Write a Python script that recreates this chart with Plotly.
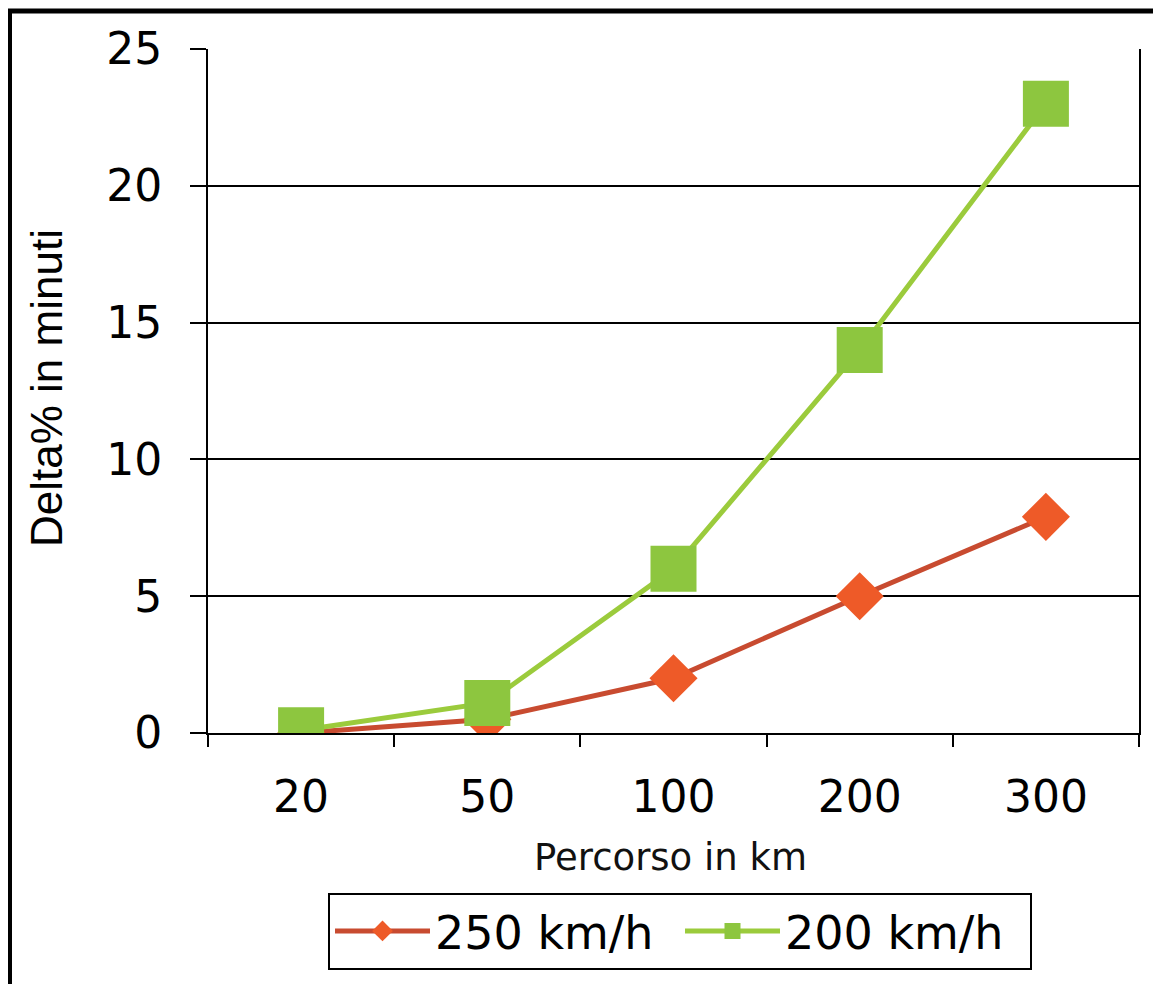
import plotly.graph_objects as go

categories = ["20", "50", "100", "200", "300"]
series_names = ["250 km/h", "200 km/h"]
values_250 = [0.0, 0.5, 2.0, 5.0, 7.9]
values_200 = [0.1, 1.1, 6.0, 14.0, 23.0]
y_ticks = [0, 5, 10, 15, 20, 25]

# page body adds an 8px offset, so the figure is drawn 8px smaller than the window
W, H = 1153, 976
L, R, T, B = 200, 22, 41, 251
PW, PH = W - L - R, H - T - B


def px_x(p):
    return (p - L) / PW


def px_y(p):
    return (H - B - p) / PH


fig = go.Figure()
fig.add_trace(go.Scatter(
    x=categories, y=values_250, name=series_names[0], mode="lines+markers",
    line=dict(color="#C84B30", width=5),
    marker=dict(symbol="diamond", size=37, color="#EE5A28", line=dict(width=0)),
))
fig.add_trace(go.Scatter(
    x=categories, y=values_200, name=series_names[1], mode="lines+markers",
    line=dict(color="#9BCB3C", width=5),
    marker=dict(symbol="square", size=46, color="#8DC63F", line=dict(width=0)),
))

fig.update_layout(
    width=W, height=H,
    margin=dict(l=L, r=R, t=T, b=B, autoexpand=False),
    paper_bgcolor="white", plot_bgcolor="white",
    font=dict(family="DejaVu Sans, sans-serif", color="black"),
    showlegend=True,
    legend=dict(
        orientation="h", x=px_x(672), y=px_y(923), xanchor="center", yanchor="middle",
        bordercolor="black", borderwidth=2, bgcolor="white",
        font=dict(size=46, family="DejaVu Sans, sans-serif", color="black"),
        itemwidth=95, tracegroupgap=0, entrywidth=240, entrywidthmode="pixels",
    ),
)

fig.update_xaxes(
    type="category", categoryorder="array", categoryarray=categories,
    range=[-0.5, 4.5], automargin=False,
    showgrid=False, showline=True, linecolor="black", linewidth=2,
    ticks="outside", tickson="boundaries", ticklen=12, tickwidth=2, tickcolor="black",
    tickfont=dict(size=44, family="DejaVu Sans, sans-serif", color="black"),
    ticklabelstandoff=24,
    zeroline=False,
)
fig.update_yaxes(
    range=[0, 25], tickvals=y_ticks, automargin=False,
    showgrid=True, gridcolor="black", gridwidth=2,
    showline=True, linecolor="black", linewidth=2, mirror=True,
    ticks="outside", ticklen=16, tickwidth=2, tickcolor="black",
    tickfont=dict(size=44, family="DejaVu Sans, sans-serif", color="black"),
    ticklabelstandoff=19,
    zeroline=False,
)

# axis titles
fig.add_annotation(
    text="Delta% in minuti", xref="paper", yref="paper",
    x=px_x(38), y=px_y(380), xanchor="center", yanchor="middle",
    textangle=-90, showarrow=False,
    font=dict(size=44, family="Liberation Sans, Arial, sans-serif", color="black"),
)
fig.add_annotation(
    text="Percorso in km", xref="paper", yref="paper",
    x=px_x(662), y=px_y(849), xanchor="center", yanchor="middle",
    showarrow=False,
    font=dict(size=37, family="DejaVu Sans, sans-serif", color="#111111"),
)

# outer frame of the picture (left and top edges visible)
fig.add_shape(
    type="rect", xref="paper", yref="paper",
    x0=px_x(1.5), x1=px_x(W + 30), y0=px_y(H + 30), y1=px_y(3),
    line=dict(color="black", width=5), layer="above",
)

fig.write_html("out.html")
